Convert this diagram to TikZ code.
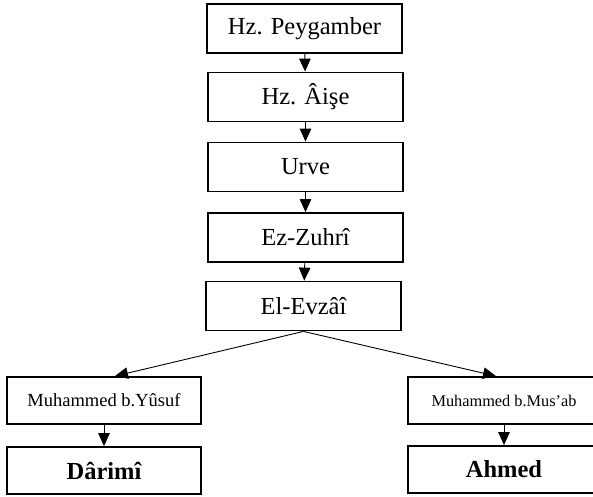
\documentclass[tikz,border=0pt]{standalone}
\usepackage{fontspec}
\setmainfont{Liberation Serif}
\usetikzlibrary{arrows.meta}
\begin{document}
\begin{tikzpicture}[x=1pt,y=-1pt,
  box/.style={draw, line width=1.8pt, minimum width=195pt, minimum height=49pt, inner sep=0pt, font=\fontsize{24.5}{28}\selectfont},
  lowbox/.style={draw, line width=1.8pt, minimum width=194pt, minimum height=47pt, inner sep=0pt},
  arr/.style={-{Triangle[length=13pt,width=11.5pt]}, line width=0.9pt}]
\useasboundingbox (0,0) rectangle (593,496);
\node[box] (p) at (304.5,28.5) {Hz. Peygamber};
\node[box] (a) at (305.5,97) {Hz. Âişe};
\node[box] (u) at (305.5,167) {Urve};
\node[box] (z) at (305.5,237.5) {Ez-Zuhrî};
\node[box] (e) at (303.5,306) {El-Evzâî};
\node[lowbox, font=\fontsize{18.5}{22}\selectfont] (y) at (104,400.5) {Muhammed b.Yûsuf};
\node[lowbox, font=\fontsize{24.5}{28}\bfseries] (d) at (104,470.5) {Dârimî};
\node[lowbox, minimum width=192pt, font=\fontsize{16.3}{20}\selectfont] (m) at (504,400.5) {Muhammed b.Mus’ab};
\node[lowbox, minimum width=192pt, font=\fontsize{24.5}{28}\bfseries] (h) at (504,469.5) {Ahmed};
\draw[arr] (p) -- (a);
\draw[arr] (a) -- (u);
\draw[arr] (u) -- (z);
\draw[arr] (z) -- (e);
\draw[arr] (e.south) -- ([xshift=11pt]y.north);
\draw[arr] (e.south) -- ([xshift=-8pt]m.north);
\draw[arr] (y) -- (d);
\draw[arr] (m) -- (h);
\end{tikzpicture}
\end{document}
